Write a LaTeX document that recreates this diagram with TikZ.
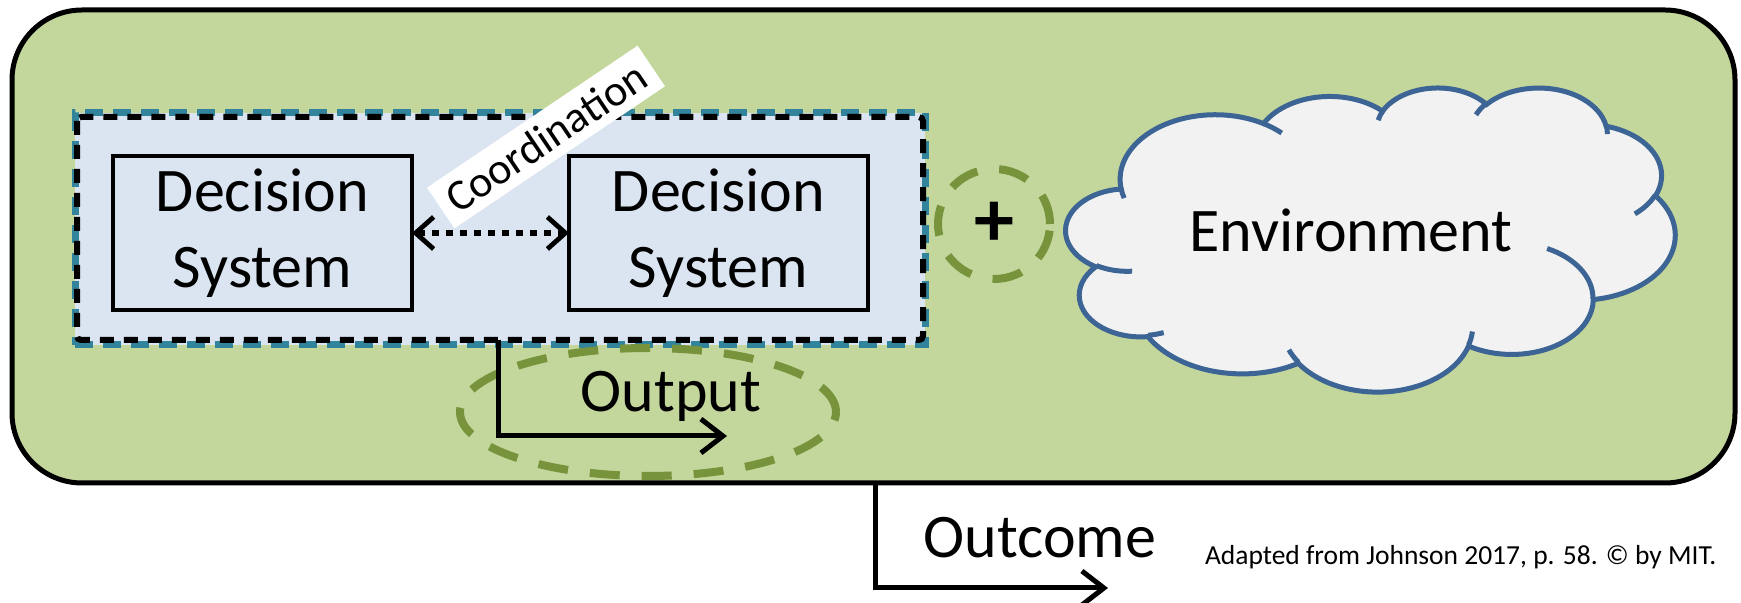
\documentclass[tikz,border=0pt]{standalone}
\usepackage{fontspec}
\setmainfont{Carlito}
\usetikzlibrary{arrows.meta,shapes.geometric}

\definecolor{systemfill}{HTML}{C3D69B}
\definecolor{teamfill}{HTML}{DBE5F1}
\definecolor{teamedge}{HTML}{31849B}
\definecolor{ringgreen}{HTML}{77933C}
\definecolor{cloudedge}{HTML}{3C6494}
\definecolor{cloudfill}{HTML}{F2F2F2}

\tikzset{
  bigtext/.style={font=\fontsize{31}{38}\selectfont},
  sysbox/.style={draw, line width=2.5pt, fill=systemfill, rounded corners=35pt},
  teambox/.style={fill=teamfill, draw=teamedge, line width=3.5pt, dash pattern=on 9pt off 5pt},
  teaminner/.style={draw=black, line width=3pt, dash pattern=on 7pt off 5pt, rounded corners=2pt},
  dsbox/.style={draw, line width=2.4pt, align=center, bigtext, minimum width=149.5pt, minimum height=77pt},
  ring/.style={ellipse, draw=ringgreen, line width=4pt, dash pattern=on 15pt off 11pt},
  coordarrow/.style={line width=3pt, dash pattern=on 3.5pt off 3.5pt, {Straight Barb[length=9pt, width=16pt, line width=2.4pt]}-{Straight Barb[length=9pt, width=16pt, line width=2.4pt]}},
  flowarrow/.style={line width=2.5pt, -{Straight Barb[length=11pt, width=17pt, line width=2.5pt]}},
  cloudline/.style={draw=cloudedge, line width=2.5pt},
  % elliptical arc given by its radii and visual start/sweep angles
  cloud arc/.style n args={4}{insert path={
    arc[x radius=#1, y radius=#2,
        start angle={atan2((#1)*sin(#3),(#2)*cos(#3))},
        delta angle={mod(atan2((#1)*sin((#3)+(#4)),(#2)*cos((#3)+(#4)))-atan2((#1)*sin(#3),(#2)*cos(#3))+720,360)}]}},
}

\begin{document}
\begin{tikzpicture}[x=0.5pt, y=-0.5pt, every node/.style={inner sep=0pt, outer sep=0pt}]
  \path[fill=white, use as bounding box] (0,0) rectangle (1741,603);

  % the system
  \node[sysbox, minimum width=861.5pt, minimum height=236.5pt] (system) at (873.5,246.5) {};

  % the team of decision systems
  \node[teambox, minimum width=425pt, minimum height=116pt] (team) at (500,229) {};
  \draw[teaminner] ([shift={(2,4)}]team.north west) rectangle ([shift={(-2,-5)}]team.south east);

  \node[dsbox] (dsA) at (262.5,233) {Decision\\System};
  \node[dsbox] (dsB) at (718.5,233) {Decision\\System};

  \node[fill=white, rotate=34, minimum width=127pt, minimum height=24.5pt,
        font=\fontsize{22}{26}\selectfont] (coord) at (546,137) {Coordination};

  \draw[coordarrow] (dsA.east) -- (dsB.west);

  % combination with the environment
  \node[ring, minimum width=56pt, minimum height=55pt, font=\fontsize{40}{40}\selectfont\bfseries] (join) at (994,224) {+};

  \begin{scope}[shift={(1066,87)}, x=0.70486pt, y=-0.35185pt]
    \path[cloudline, fill=cloudfill] (39.00,143.70)
      [cloud arc={67.53}{91.90}{-190.4875}{123.7805}]
      [cloud arc={53.33}{72.67}{-144.1024}{89.9452}]
      [cloud arc={43.65}{59.45}{-145.8079}{99.7230}]
      [cloud arc={48.57}{65.95}{-130.9861}{117.2417}]
      [cloud arc={53.33}{72.73}{-78.7089}{109.0269}]
      [cloud arc={67.75}{92.20}{-46.2673}{130.2690}]
      [cloud arc={57.85}{78.67}{0.6250}{114.0333}]
      [cloud arc={67.52}{92.15}{22.4516}{115.1726}]
      [cloud arc={77.20}{105.43}{66.2426}{75.7110}]
      [cloud arc={43.60}{59.18}{-274.9421}{146.7356}]
      [cloud arc={43.45}{59.45}{-246.8285}{152.5189}] -- cycle;
    \draw[cloudline] (46.93,261.77) [cloud arc={43.45}{59.45}{86.7420}{26.4295}];
    \draw[cloudline] (69.28,348.99) [cloud arc={43.60}{59.18}{73.6105}{11.4475}];
    \draw[cloudline] (164.78,390.90) [cloud arc={67.52}{92.15}{137.6242}{14.0811}];
    \draw[cloudline] (288.27,347.51) [cloud arc={67.52}{92.15}{6.4533}{15.9984}];
    \draw[cloudline] (341.29,229.54) [cloud arc={57.85}{78.67}{-70.2924}{70.9174}];
    \draw[cloudline] (417.98,153.54) [cloud arc={53.33}{72.73}{30.3180}{27.7515}];
    \draw[cloudline] (383.24,54.26) [cloud arc={48.57}{65.95}{-13.7443}{14.8589}];
    \draw[cloudline] (290.78,39.52) [cloud arc={48.57}{65.95}{-149.1815}{18.1954}];
    \draw[cloudline] (221.41,47.20) [cloud arc={43.65}{59.45}{-163.4943}{17.6864}];
    \draw[cloudline] (140.00,51.92) [cloud arc={67.53}{91.90}{-66.7070}{12.3194}];
    \draw[cloudline] (41.27,157.89) [cloud arc={67.53}{91.90}{157.6544}{11.8582}];
  \end{scope}
  \node[bigtext, anchor=base] (env) at (1351,252) {Environment};

  % output of the team
  \node[ring, minimum width=188pt, minimum height=64pt] (outring) at (648,412) {};
  \node[bigtext, anchor=base] (outlabel) at (671,412) {Output};
  \coordinate (outcorner) at (498,436);
  \coordinate (outtip) at (727,436);
  \draw[flowarrow] ([yshift=2.5pt]team.south -| outcorner) -- (outcorner) -- (outtip);

  % outcome of the system
  \coordinate (outcomecorner) at (875,588);
  \coordinate (outcometip) at (1108,588);
  \draw[flowarrow] (system.south -| outcomecorner) -- (outcomecorner) -- (outcometip);
  \node[bigtext, anchor=base] (outcome) at (1040,558) {Outcome};

  \node[font=\fontsize{13.75}{16}\selectfont, anchor=base west] (credit) at (1205,565)
    {Adapted from Johnson 2017, p. 58. © by MIT.};
\end{tikzpicture}
\end{document}
